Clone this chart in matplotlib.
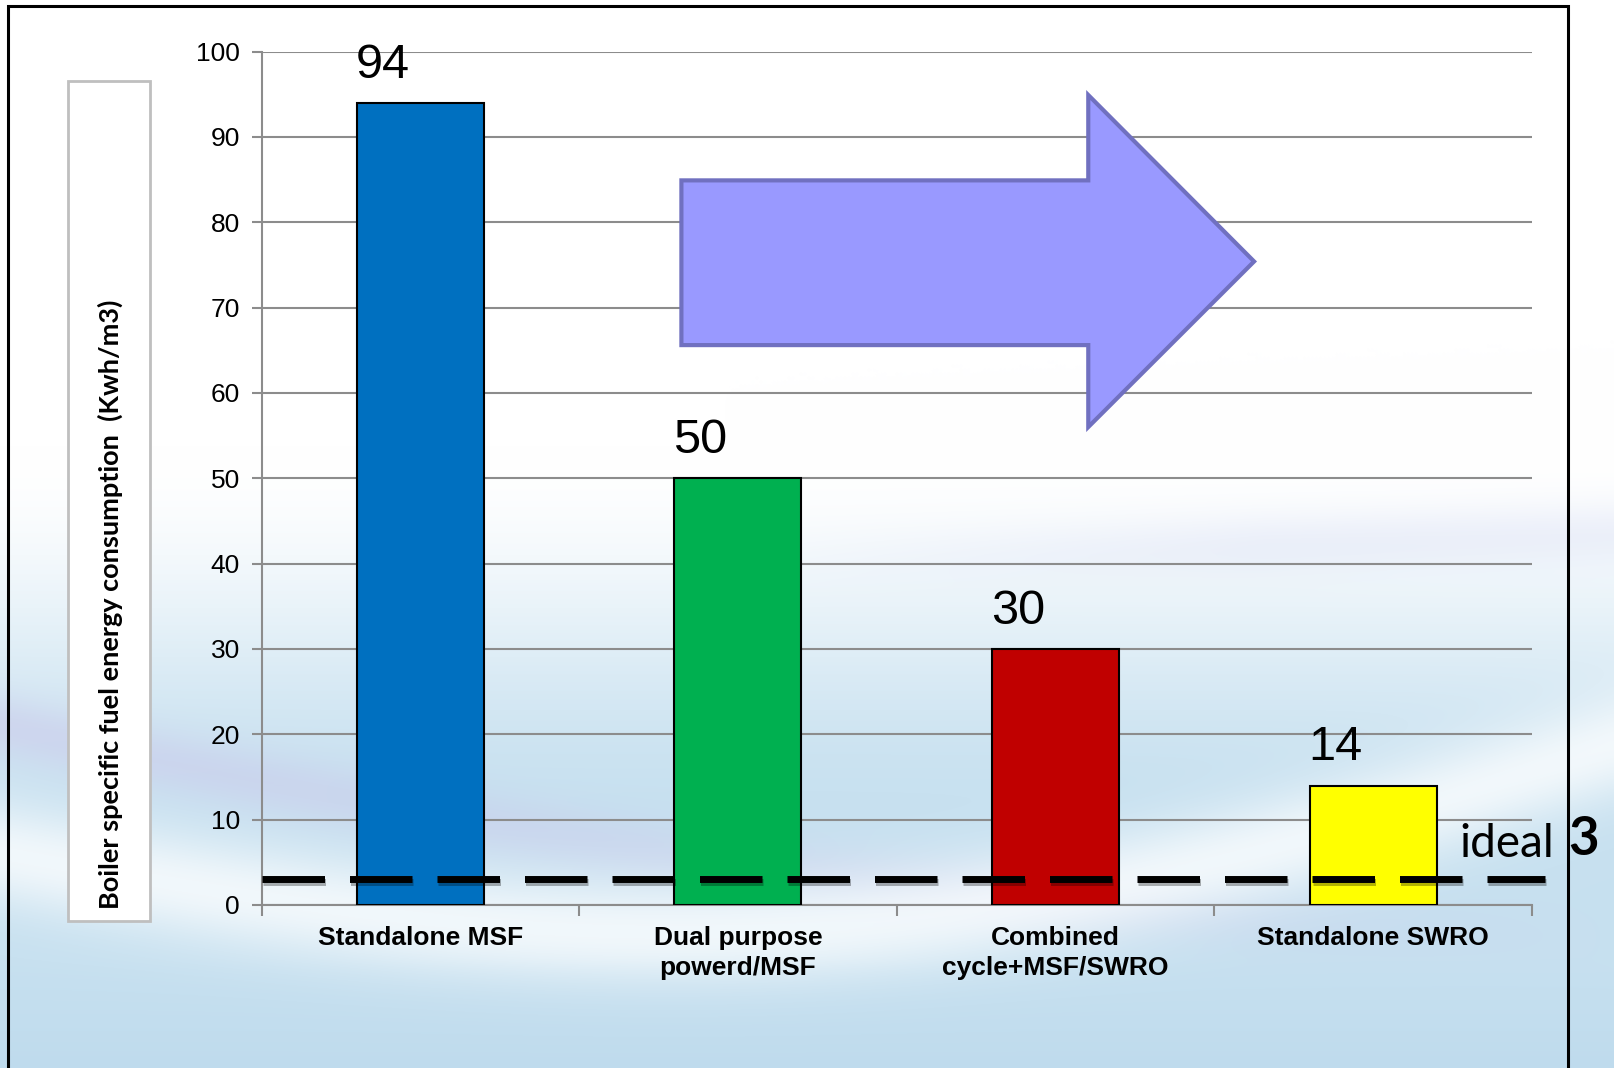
import matplotlib.pyplot as plt
import matplotlib.patheffects as pe
from matplotlib.patches import Polygon, Rectangle
import numpy as np

categories = ['Standalone MSF', 'Dual purpose\npowerd/MSF', 'Combined\ncycle+MSF/SWRO', 'Standalone SWRO']
values = [94, 50, 30, 14]
colors = ['#0070c0', '#00b050', '#c00000', '#ffff00']
ideal = 3
yticks = [0, 10, 20, 30, 40, 50, 60, 70, 80, 90, 100]

fig = plt.figure(figsize=(16.14, 10.68), dpi=100)

# soft background (white top, bluish waves at the bottom)
H, W = 267, 404
v, u = np.mgrid[0:1:H * 1j, 0:1:W * 1j]
t = np.clip((v - 0.42) / 0.35, 0, 1)
t = t * t * (3 - 2 * t)
white = np.array([1.0, 1.0, 1.0])
blue = np.array([0.78, 0.88, 0.94])
img = white * (1 - t[..., None]) + blue * t[..., None]
lav = np.array([0.80, 0.78, 0.92])
band = np.exp(-((v - (0.68 + 0.35 * u - 0.15 * u * u)) / 0.03) ** 2) * (1 - u) ** 0.7
img = img * (1 - 0.5 * band[..., None]) + lav * 0.5 * band[..., None]
swoosh = np.exp(-((v - (0.80 + 0.12 * np.sin(np.pi * u) - 0.1 * u)) / 0.05) ** 2)
img = img * (1 - 0.75 * swoosh[..., None]) + white * 0.75 * swoosh[..., None]
band2 = np.exp(-((v - (0.55 - 0.05 * u)) / 0.03) ** 2) * np.clip((u - 0.45) * 3, 0, 1)
img = img * (1 - 0.3 * band2[..., None]) + np.array([0.82, 0.84, 0.95]) * 0.3 * band2[..., None]
bottom = np.clip((v - 0.9) / 0.1, 0, 1)
img = img * (1 - 0.5 * bottom[..., None]) + np.array([0.72, 0.84, 0.92]) * 0.5 * bottom[..., None]

bg = fig.add_axes([0, 0, 1, 1], zorder=-10)
bg.imshow(img, aspect='auto', interpolation='bilinear', extent=[0, 1, 0, 1])
bg.axis('off')

# outer frame (open at the bottom)
fig.patches.append(Rectangle((8 / 1614, -0.05), (1568 - 8) / 1614, 1.05 - 6 / 1068,
                             transform=fig.transFigure, fill=False, ec='black', lw=2.2))

ax = fig.add_axes([261.5 / 1614, 1 - 905 / 1068, (1532 - 261.5) / 1614, (905 - 51.5) / 1068])
ax.patch.set_alpha(0)
x = np.arange(len(categories))
ax.bar(x, values, width=0.4, color=colors, edgecolor='black', linewidth=1.5, zorder=3)

for xi, val in zip(x, values):
    ax.text(xi - 0.118, val + 4.4, str(val), ha='center', va='center',
            fontsize=35, family='Liberation Sans', zorder=5)

ax.set_xlim(-0.5, 3.5)
ax.set_ylim(0, 100)
ax.set_yticks(yticks)
ax.set_yticklabels([str(t) for t in yticks], fontsize=19, family='Liberation Sans')
ax.yaxis.grid(True, color='#8c8c8c', lw=1.5, zorder=1)
ax.set_axisbelow(True)
ax.tick_params(axis='y', length=7, width=1.5, color='#8c8c8c', pad=8.5)

ax.set_xticks(x)
ax.set_xticklabels(categories, fontsize=19, fontweight='bold', family='Liberation Sans',
                   linespacing=1.3)
ax.tick_params(axis='x', length=0, pad=15)
ax.set_xticks(np.arange(-0.5, 4.0, 1.0), minor=True)
ax.tick_params(axis='x', which='minor', length=8, width=1.5, color='#8c8c8c')

for s in ['top', 'right']:
    ax.spines[s].set_visible(False)
for s in ['left', 'bottom']:
    ax.spines[s].set_color('#8c8c8c')
    ax.spines[s].set_linewidth(1.5)

# ideal level
ax.plot([-0.5, 3.54], [ideal, ideal], color='black', lw=5, dashes=(9, 3.6),
        solid_capstyle='butt', dash_capstyle='butt', clip_on=False, zorder=6,
        path_effects=[pe.SimpleLineShadow(offset=(1, -2), alpha=0.3), pe.Normal()])
ax.text(3.27, 5.6, 'ideal', fontsize=33, family='Lato', va='baseline', ha='left',
        clip_on=False, zorder=7)
ax.text(3.615, 5.8, str(ideal), fontsize=38, family='Lato', fontweight='bold',
        va='baseline', ha='left', clip_on=False, zorder=7)

# big arrow
arrow = Polygon([(0.822, 84.9), (2.103, 84.9), (2.103, 94.9), (2.625, 75.4),
                 (2.103, 56.0), (2.103, 65.6), (0.822, 65.6)],
                closed=True, fc='#9999ff', ec='#7070c0', lw=3, zorder=4)
ax.add_patch(arrow)

# y-label box
fig.patches.append(Rectangle((68 / 1614, 1 - 921 / 1068), 82 / 1614, 840 / 1068,
                             transform=fig.transFigure, fc='white', ec='#bfbfbf', lw=2))
fig.text(110 / 1614, 1 - 604 / 1068, 'Boiler specific fuel energy consumption  (Kwh/m3)',
         rotation=90, ha='center', va='center', fontsize=19.5, fontweight='bold', family='Lato')

fig.savefig('out.png', dpi=100)
